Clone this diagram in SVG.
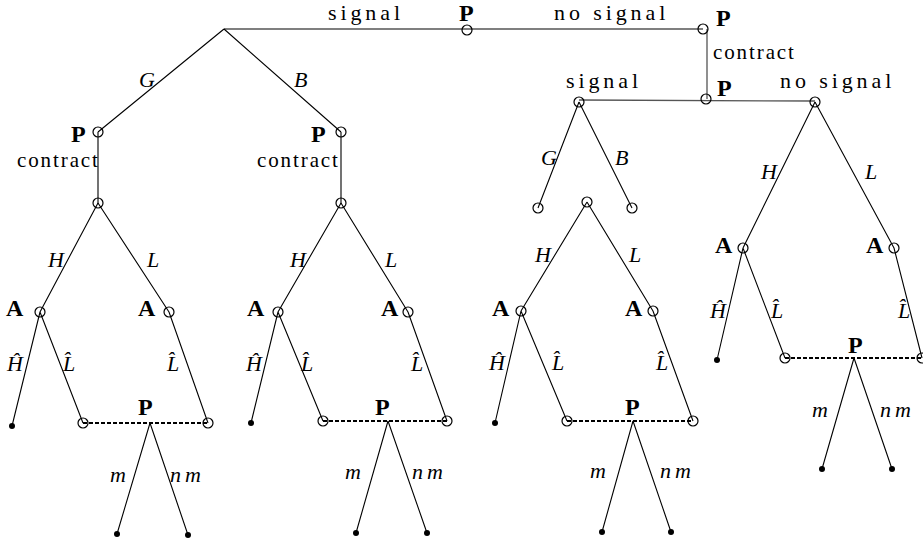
<svg xmlns="http://www.w3.org/2000/svg" width="923" height="544" viewBox="0 0 923 544">
<style>
.e{stroke:#000;stroke-width:1.1;fill:none}
.g{stroke:#555;stroke-width:1.3;fill:none}
.d{stroke:#000;stroke-width:2;stroke-dasharray:4 2;fill:none}
.n{stroke:#000;stroke-width:1.2;fill:none}
.t{fill:#000}
.b{font-family:"Liberation Serif",serif;font-weight:bold;font-size:24px}
.w{font-family:"Liberation Serif",serif;font-size:22px}
.s{letter-spacing:3.9px}
.c{font-size:21px;letter-spacing:1.9px}
.i{font-family:"Liberation Serif",serif;font-style:italic;font-size:22px}
.nm{letter-spacing:4px}
</style>
<rect width="923" height="544" fill="#fff"/>
<g id="connectors">
<path class="g" d="M224 29H703M707 29V99M579 100L815 101"/>
<path class="e" d="M224 29L98 132M224 29L341 132M98 132V203M341 132V203"/>
<path class="e" d="M98 203L40 312M98 203L169 312M40 312L12 426M40 312L83 423M169 312L208 423M150 423L117 534M150 423L188 535"/>
<path class="d" d="M83 423H208"/>
<path class="e" d="M341 203L278 312M341 203L408 312M278 312L251 423M278 312L323 421M408 312L447 421M388 421L356 533M388 421L427 533"/>
<path class="d" d="M323 421H447"/>
<path class="e" d="M579 102L538 208M579 102L632 208M587 202L521 311M587 202L653 311M521 311L495 423M521 311L567 421M653 311L693 421M633 421L602 532M633 421L671 532"/>
<path class="d" d="M567 421H693"/>
<path class="e" d="M815 102L743 248M815 102L894 248M743 248L717 360M743 248L785 358M894 248L922 358M854 358L822 469M854 358L892 469"/>
<path class="d" d="M785 358H922"/>
</g>
<g id="edge-labels" class="t">
<text class="w s" x="328" y="20">signal</text>
<text class="w s" x="554" y="20">no signal</text>
<text class="w c" x="713" y="59">contract</text>
<text class="w s" x="566" y="88">signal</text>
<text class="w s" x="780" y="88">no signal</text>
<text class="i" x="139" y="87">G</text>
<text class="i" x="294" y="87">B</text>
<text class="w c" x="17" y="167">contract</text>
<text class="w c" x="257" y="167">contract</text>
<text class="i" x="48" y="267">H</text>
<text class="i" x="147" y="267">L</text>
<text class="i" x="290" y="267">H</text>
<text class="i" x="385" y="267">L</text>
<text class="i" x="7" y="371">Ĥ</text>
<text class="i" x="63" y="371">L̂</text>
<text class="i" x="167" y="371">L̂</text>
<text class="i" x="246" y="371">Ĥ</text>
<text class="i" x="301" y="371">L̂</text>
<text class="i" x="411" y="371">L̂</text>
<text class="i" x="110" y="482">m</text>
<text class="i nm" x="170" y="482">nm</text>
<text class="i" x="345" y="479">m</text>
<text class="i nm" x="412" y="479">nm</text>
<text class="i" x="541" y="165">G</text>
<text class="i" x="615" y="165">B</text>
<text class="i" x="535" y="262">H</text>
<text class="i" x="629" y="262">L</text>
<text class="i" x="489" y="370">Ĥ</text>
<text class="i" x="552" y="370">L̂</text>
<text class="i" x="656" y="370">L̂</text>
<text class="i" x="590" y="478">m</text>
<text class="i nm" x="660" y="478">nm</text>
<text class="i" x="761" y="179">H</text>
<text class="i" x="865" y="179">L</text>
<text class="i" x="710" y="318">Ĥ</text>
<text class="i" x="771" y="318">L̂</text>
<text class="i" x="898" y="318">L̂</text>
<text class="i" x="812" y="417">m</text>
<text class="i nm" x="880" y="417">nm</text>
</g>
<g id="n-p-top"><circle class="n" cx="467" cy="30" r="5"/><text class="b" x="459" y="21">P</text></g>
<g id="n-p-right"><circle class="n" cx="703" cy="29" r="5"/><text class="b" x="716" y="26">P</text></g>
<g id="n-p-lower"><circle class="n" cx="706" cy="99" r="5"/><text class="b" x="717" y="96">P</text></g>
<g id="n-p-g"><circle class="n" cx="98" cy="132" r="5"/><text class="b" x="71" y="142">P</text></g>
<g id="n-p-b"><circle class="n" cx="341" cy="132" r="5"/><text class="b" x="311" y="142">P</text></g>
<g id="n-c1"><circle class="n" cx="98" cy="203" r="5"/></g>
<g id="n-c2"><circle class="n" cx="341" cy="203" r="5"/></g>
<g id="n-a1h"><circle class="n" cx="40" cy="312" r="5"/><text class="b" x="6" y="316">A</text></g>
<g id="n-a1l"><circle class="n" cx="169" cy="312" r="5"/><text class="b" x="138" y="316">A</text></g>
<g id="n-a2h"><circle class="n" cx="278" cy="312" r="5"/><text class="b" x="247" y="316">A</text></g>
<g id="n-a2l"><circle class="n" cx="408" cy="312" r="5"/><text class="b" x="381" y="316">A</text></g>
<g id="n-i1"><circle class="n" cx="83" cy="423" r="5"/><circle class="n" cx="208" cy="423" r="5"/><text class="b" x="138" y="415">P</text></g>
<g id="n-i2"><circle class="n" cx="323" cy="421" r="5"/><circle class="n" cx="447" cy="421" r="5"/><text class="b" x="375" y="415">P</text></g>
<g id="n-sig"><circle class="n" cx="579" cy="102" r="5"/></g>
<g id="n-sg"><circle class="n" cx="538" cy="208" r="5"/></g>
<g id="n-sb"><circle class="n" cx="632" cy="208" r="5"/></g>
<g id="n-c3"><circle class="n" cx="587" cy="202" r="5"/></g>
<g id="n-a3h"><circle class="n" cx="521" cy="311" r="5"/><text class="b" x="492" y="316">A</text></g>
<g id="n-a3l"><circle class="n" cx="653" cy="311" r="5"/><text class="b" x="625" y="316">A</text></g>
<g id="n-i3"><circle class="n" cx="567" cy="421" r="5"/><circle class="n" cx="693" cy="421" r="5"/><text class="b" x="625" y="415">P</text></g>
<g id="n-nosig"><circle class="n" cx="815" cy="102" r="5"/></g>
<g id="n-a4h"><circle class="n" cx="743" cy="248" r="5"/><text class="b" x="715" y="253">A</text></g>
<g id="n-a4l"><circle class="n" cx="894" cy="248" r="5"/><text class="b" x="866" y="253">A</text></g>
<g id="n-i4"><circle class="n" cx="785" cy="358" r="5"/><circle class="n" cx="922" cy="358" r="5"/><text class="b" x="848" y="353">P</text></g>
<g id="leaves" class="t">
<circle cx="12" cy="426" r="3"/><circle cx="117" cy="534" r="3"/><circle cx="188" cy="535" r="3"/>
<circle cx="251" cy="423" r="3"/><circle cx="356" cy="533" r="3"/><circle cx="427" cy="533" r="3"/>
<circle cx="495" cy="423" r="3"/><circle cx="602" cy="532" r="3"/><circle cx="671" cy="532" r="3"/>
<circle cx="717" cy="360" r="3"/><circle cx="822" cy="469" r="3"/><circle cx="892" cy="469" r="3"/>
</g>
</svg>
